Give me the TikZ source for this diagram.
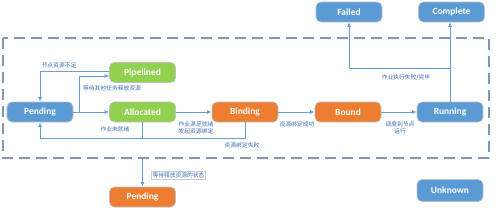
\documentclass[tikz,border=0pt]{standalone}
\usepackage{fontspec}
\setmainfont{Carlito}
\newfontfamily\cjk{Noto Sans CJK SC}
\usetikzlibrary{arrows.meta,calc}
\definecolor{sblue}{HTML}{5B9BD5}
\definecolor{sgreen}{HTML}{92D050}
\definecolor{sorange}{HTML}{ED7D31}
\definecolor{lineblue}{HTML}{6A9FD6}
\definecolor{labblue}{HTML}{3F6FB5}
\definecolor{boxgray}{HTML}{8497B0}
\tikzset{
  state/.style={rounded corners=5bp, minimum width=66bp, minimum height=20bp,
    inner sep=0pt, draw=black!25, line width=0.6bp, text=white,
    font=\fontsize{9.5}{11}\selectfont\bfseries},
  bluestate/.style={state, fill=sblue},
  greenstate/.style={state, fill=sgreen},
  orangestate/.style={state, fill=sorange},
  conn/.style={draw=lineblue, line width=0.9bp, -{Latex[length=4.5bp,width=4bp]}},
  plain/.style={draw=lineblue, line width=0.9bp},
  lab/.style={text=labblue, font=\cjk\fontsize{5.8}{7}\selectfont, inner sep=0.5bp, align=center},
}
\begin{document}
\begin{tikzpicture}[x=1bp,y=-1bp]
\useasboundingbox (0,0) rectangle (496,213);
% dashed frame
\draw[draw=boxgray, line width=1.2bp, dash pattern=on 11bp off 6bp] (3,38) rectangle (489,158);
% states
\node[bluestate] (pend) at (40,112) {Pending};
\node[greenstate] (pipe) at (142.5,72.5) {Pipelined};
\node[greenstate] (alloc) at (142.5,112) {Allocated};
\node[orangestate] (bind) at (245,112) {Binding};
\node[orangestate] (bound) at (348,112) {Bound};
\node[bluestate] (run) at (450,112) {Running};
\node[bluestate] (failed) at (349,12) {Failed};
\node[bluestate] (complete) at (451.5,12) {Complete};
\node[orangestate] (pend2) at (142.5,197) {Pending};
\node[bluestate, minimum height=22bp] (unknown) at (450,190.5) {Unknown};
\coordinate (boxbot) at (142.5,158);
% connectors
\draw[conn] (pend) -- (alloc);
\draw[conn] ($(pend.east)+(6,0)$) |- ([yshift=-3.5bp]pipe.west);
\draw[conn] ([yshift=1bp]pipe.west) -| (pend.north);
\draw[conn] (alloc) -- (bind);
\draw[conn] (alloc.south) -- ++(0,16) -| (pend.south);
\draw[plain] (bind.south) |- ($(alloc.south)+(0,16)$);
\draw[conn] (bind) -- (bound);
\draw[conn] (bound) -- (run);
\draw[conn] (run.north) -- (run.north |- complete.south);
\draw[conn] ($(run.north)+(0,-33)$) -| (failed.south);
\draw[conn] (boxbot) -- (pend2.north);
% labels
\node[lab] (l1) at (59,65) {节点资源不足};
\node[lab] (l2) at (112,88) {等待其他任务释放资源};
\node[lab] (l3) at (115,129) {作业未就绪};
\node[lab] (l4) at (196,127.5) {作业满足就绪\\发起资源绑定};
\node[lab] (l5) at (242,145) {资源绑定失败};
\node[lab] (l6) at (297,124) {资源绑定成功};
\node[lab] (l7) at (400,127.5) {调度到节点\\运行};
\node[lab] (l8) at (406,78) {作业执行失败/完毕};
\node[lab, draw=black!20, line width=0.3bp, inner sep=1bp] (l9) at (178.5,175) {等待释放资源的状态};
\end{tikzpicture}
\end{document}
